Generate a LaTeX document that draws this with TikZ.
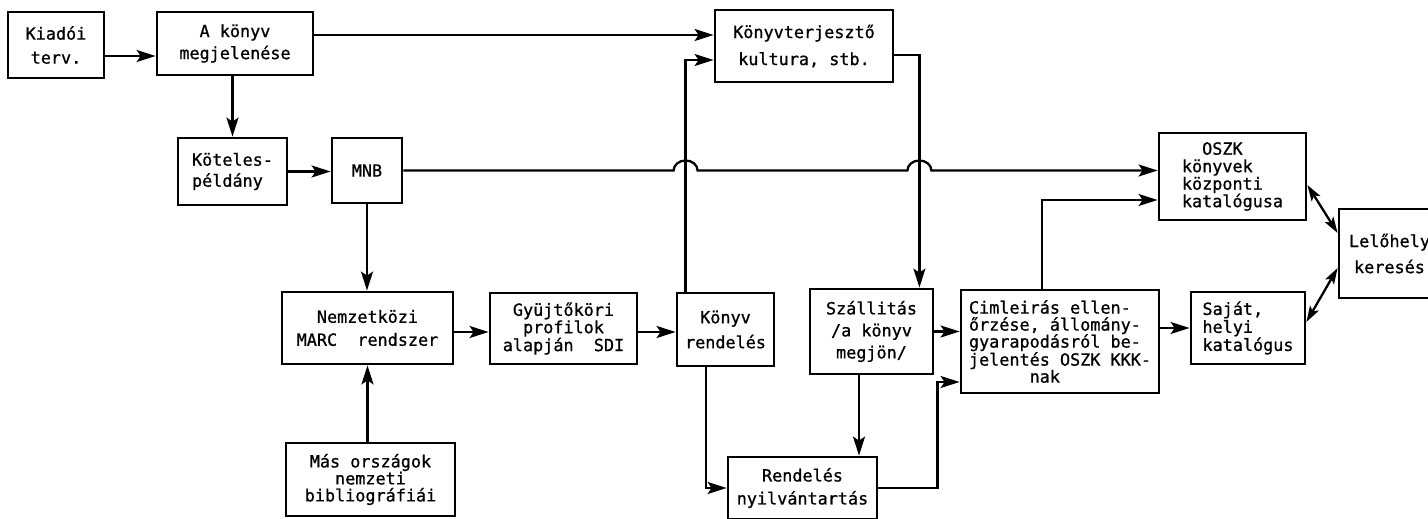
\documentclass[tikz,border=0pt]{standalone}
\usepackage{fontspec}
\newfontfamily\tw[FakeBold=0.9]{DejaVu Sans Mono}
\usetikzlibrary{arrows.meta,calc}

\begin{document}
\begin{tikzpicture}[x=1pt, y=-1pt,
  box/.style={draw, line width=2.8pt, inner sep=2pt, align=center,
              font=\tw\fontsize{16.8}{21}\selectfont},
  lead/.style={font=\tw\fontsize{16.8}{#1}\selectfont},
  wh/.style 2 args={minimum width=#1pt, minimum height=#2pt},
  arr/.style={-{Stealth[length=19pt,width=12pt,inset=4pt]}, line width=2.3pt},
  dbl/.style={{Stealth[length=16pt,width=10pt,inset=3.5pt]}-{Stealth[length=16pt,width=10pt,inset=3.5pt]},
              line width=2.3pt}
]
\useasboundingbox (0,0) rectangle (1428,519);

% boxes, top row
\node[box, wh={96}{66}, lead=24] (kiado) at (56,45) {Kiadói\\terv.};
\node[box, wh={156}{63}, lead=22] (megjel) at (235,43.5) {A könyv\\megjelenése};
\node[box, wh={178}{72}, lead=27] (terj) at (804,46) {Könyvterjesztő\\kultura, stb.};
% middle row
\node[box, wh={109}{67}, align=left] (koteles) at (232.5,171.5) {Köteles-\\példány};
\node[box, wh={70}{65}] (mnb) at (367,170.5) {MNB};
\node[box, wh={147}{87}, lead=17.5, align=left] (oszk) at (1232.5,176.5)
  {\hphantom{kö}OSZK\\könyvek\\központi\\katalógusa};
\node[box, wh={101}{89}, lead=26] (lelo) at (1389.5,253.5) {Lelőhely\\keresés};
% lower row
\node[box, wh={171}{72}, lead=23] (nemz) at (367.5,328) {Nemzetközi\\MARC\ \ rendszer};
\node[box, wh={147}{71}, lead=16] (gyujt) at (563.5,328.5) {Gyüjtőköri\\profilok\\alapján\ \ SDI};
\node[box, wh={97}{73}, lead=25] (konyvr) at (725.5,329.5) {Könyv\\rendelés};
\node[box, wh={123}{85}, lead=22] (szall) at (871.5,331.5) {Szállitás\\/a könyv\\megjön/};
\node[box, wh={198}{103}, lead=17, align=left] (ciml) at (1060,341.5)
  {Cimleirás ellen-\\őrzése, állomány-\\gyarapodásról be-\\jelentés OSZK KKK-\\\hphantom{xxxxxx}nak};
\node[box, wh={114}{72}, lead=18, align=left] (sajat) at (1248,328) {Saját,\\helyi\\katalógus};
% bottom row
\node[box, wh={169}{73}, lead=17] (mas) at (370.5,479.5) {Más országok\\nemzeti\\bibliográfiái};
\node[box, wh={149}{62}, lead=23] (rendny) at (802.5,488) {Rendelés\\nyilvántartás};

\coordinate (upx) at ($(konyvr.north west)+(10,0)$);
\coordinate (dnx) at ($(szall.north east)+(-15,0)$);
\coordinate (rx) at ($(ciml.south west)+(-22,0)$);

% connectors
\draw[arr] ($(kiado.east)+(0,11)$) coordinate (a1) -- (a1 -| megjel.west);
\draw[arr] (megjel.south -| koteles.north) -- (koteles.north);
\draw[arr] ($(megjel.east)+(0,-8.5)$) coordinate (a2) -- (a2 -| terj.west);
\draw[arr] (koteles.east) -- (koteles.east -| mnb.west);
\draw[arr] (mnb.east) -- ($(mnb.east -| upx)+(-12,0)$)
  arc[start angle=180, end angle=0, x radius=12pt, y radius=10pt]
  -- ($(mnb.east -| dnx)+(-12,0)$)
  arc[start angle=180, end angle=0, x radius=12pt, y radius=10pt]
  -- (mnb.east -| oszk.west);
\draw[arr] (mnb.south) -- (mnb.south |- nemz.north);
\draw[arr] (mas.north -| nemz.south) -- (nemz.south);
\draw[arr] ($(nemz.east)+(0,4)$) coordinate (a3) -- (a3 -| gyujt.west);
\draw[arr] ($(gyujt.east)+(0,3.5)$) coordinate (a4) -- (a4 -| konyvr.west);
\draw[arr] (upx) |- ($(terj.west)+(0,14)$);
\draw[arr] ($(terj.east)+(0,9)$) -| (dnx);
\draw[arr] (szall.east) -- (szall.east -| ciml.west);
\draw[arr] ($(szall.south)+(-12.5,0)$) coordinate (a5) -- (a5 |- rendny.north);
\draw[arr] ($(konyvr.south)+(-19.5,0)$) |- (rendny.west);
\draw[arr] (rendny.east) -| (rx) |- ($(ciml.west)+(0,40.5)$);
\draw[arr] ($(ciml.north)+(-18,0)$) |- ($(oszk.west)+(0,23.5)$);
\draw[arr] (sajat.west -| ciml.east) -- (sajat.west);
\draw[dbl] ($(oszk.east)+(0,8.5)$) -- ($(lelo.west)+(0,-20.5)$);
\draw[dbl] ($(sajat.east)+(0,-6)$) -- ($(lelo.west)+(0,14.5)$);
\end{tikzpicture}
\end{document}
